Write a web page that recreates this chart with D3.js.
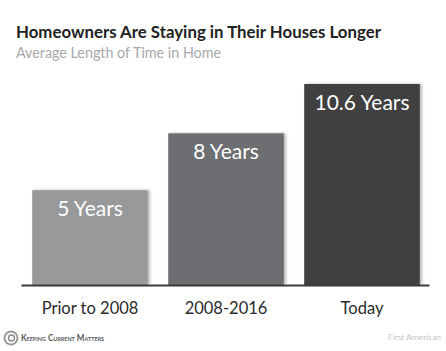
<!DOCTYPE html>
<meta charset="utf-8">
<style>

body {
  margin: 0;
  background: #fff;
}

svg {
  display: block;
  font-family: Lato, sans-serif;
}

.axis--x path {
  stroke: #3a3a3c;
  stroke-width: 2px;
}

.axis--x line {
  display: none;
}

.axis--x text {
  fill: #2b2b2b;
  font-size: 16.5px;
}

.bar text {
  fill: #fff;
  font-size: 21px;
  text-anchor: middle;
}

</style>
<svg width="446" height="351"></svg>
<script src="https://cdn.jsdelivr.net/npm/d3@7/dist/d3.min.js"></script>
<script>

var categories = ["Prior to 2008", "2008-2016", "Today"],
    values = [5, 8, 10.6],
    valueLabels = ["5 Years", "8 Years", "10.6 Years"],
    barColors = ["#98999b", "#6d6e71", "#3f3f41"];

var svg = d3.select("svg");

var x = d3.scaleBand().domain(categories).range([22, 430]).paddingInner(0.15).paddingOuter(0.075),
    y = d3.scaleLinear().domain([0, 10.6]).range([285, 84]);

var shadow = svg.append("defs").append("filter")
    .attr("id", "shadow")
    .attr("x", "-5%")
    .attr("y", "-5%")
    .attr("width", "112%")
    .attr("height", "110%");

shadow.append("feDropShadow")
    .attr("dx", 2)
    .attr("dy", 0)
    .attr("stdDeviation", 1.5)
    .attr("flood-color", "#000")
    .attr("flood-opacity", 0.3);

svg.append("text")
    .attr("x", 16)
    .attr("y", 38)
    .attr("fill", "#222")
    .attr("font-size", 17)
    .attr("font-weight", 700)
    .attr("textLength", 365)
    .attr("lengthAdjust", "spacingAndGlyphs")
    .text("Homeowners Are Staying in Their Houses Longer");

svg.append("text")
    .attr("x", 16)
    .attr("y", 58)
    .attr("fill", "#a7a9ac")
    .attr("font-size", 14.5)
    .attr("textLength", 205)
    .attr("lengthAdjust", "spacingAndGlyphs")
    .text("Average Length of Time in Home");

var bar = svg.selectAll(".bar")
  .data(values)
  .enter().append("g")
    .attr("class", "bar");

bar.append("rect")
    .attr("x", function(d, i) { return x(categories[i]); })
    .attr("y", function(d) { return y(d); })
    .attr("width", x.bandwidth())
    .attr("height", function(d) { return y(0) - y(d); })
    .attr("fill", function(d, i) { return barColors[i]; })
    .attr("filter", "url(#shadow)");

bar.append("text")
    .attr("x", function(d, i) { return x(categories[i]) + x.bandwidth() / 2; })
    .attr("y", function(d) { return y(d) + 26; })
    .text(function(d, i) { return valueLabels[i]; });

svg.append("g")
    .attr("class", "axis axis--x")
    .attr("transform", "translate(0,285)")
    .call(d3.axisBottom(x).tickSize(0).tickPadding(17).tickSizeOuter(0))
    .call(function(g) { g.select(".domain").attr("d", "M21.5,0.5H429.5"); })
    .call(function(g) { g.selectAll("text").attr("font-family", "Lato, sans-serif"); });

// logo ring and source line
svg.append("circle")
    .attr("cx", 11)
    .attr("cy", 338)
    .attr("r", 6.5)
    .attr("fill", "none")
    .attr("stroke", "#9a9a9c")
    .attr("stroke-width", 2);

svg.append("circle")
    .attr("cx", 11.5)
    .attr("cy", 338)
    .attr("r", 3)
    .attr("fill", "none")
    .attr("stroke", "#8a8a8c")
    .attr("stroke-width", 1.4);

svg.append("text")
    .attr("x", 21)
    .attr("y", 341)
    .attr("fill", "#58595b")
    .attr("font-size", 9)
    .attr("font-weight", 700)
    .attr("font-variant", "small-caps")
    .attr("textLength", 83)
    .attr("lengthAdjust", "spacingAndGlyphs")
    .text("Keeping Current Matters");

svg.append("text")
    .attr("x", 388)
    .attr("y", 340)
    .attr("fill", "#c4c5c7")
    .attr("font-size", 8)
    .attr("textLength", 53)
    .attr("lengthAdjust", "spacingAndGlyphs")
    .text("First American");

</script>
